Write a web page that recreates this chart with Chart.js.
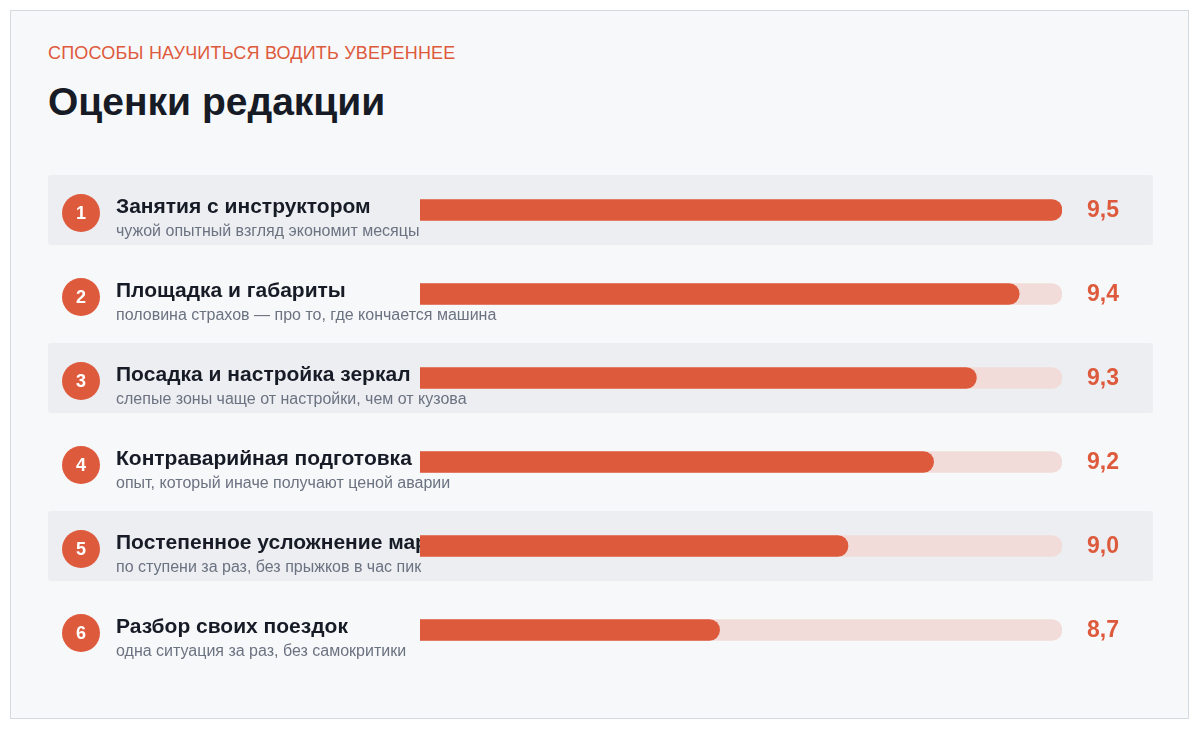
<!DOCTYPE html>
<html><head><meta charset="utf-8">
<script src="https://cdn.jsdelivr.net/npm/chart.js@4"></script>
<style>
html,body{margin:0;padding:0;background:#fff;}
#wrap{position:absolute;left:10px;top:10px;width:1177px;height:707px;border:1px solid #d5d9e0;background:#f7f8fa;}
#kick{position:absolute;left:48px;top:43px;font:18px "Liberation Sans",Arial,sans-serif;color:#de5a3c;letter-spacing:0.2px;}
#ttl{position:absolute;left:48px;top:80px;font:bold 39px "Liberation Sans Narrow","Liberation Sans",sans-serif;color:#161b26;}
canvas{position:absolute;left:0;top:0;}
</style></head><body>
<div id="wrap"></div>
<div id="kick">СПОСОБЫ НАУЧИТЬСЯ ВОДИТЬ УВЕРЕННЕЕ</div>
<div id="ttl">Оценки редакции</div>
<canvas id="c" width="1200" height="731"></canvas>
<script>
const names = ["Занятия с инструктором","Площадка и габариты","Посадка и настройка зеркал","Контраварийная подготовка","Постепенное усложнение маршрута","Разбор своих поездок"];
const notes = ["чужой опытный взгляд экономит месяцы","половина страхов — про то, где кончается машина","слепые зоны чаще от настройки, чем от кузова","опыт, который иначе получают ценой аварии","по ступени за раз, без прыжков в час пик","одна ситуация за раз, без самокритики"];
const scores = [9.5,9.4,9.3,9.2,9.0,8.7];
const scoreMax = 9.5, scoreMin = 8.0;
const track = scores.map(()=>scoreMax);

const deco = {
  id:'deco',
  beforeDatasetsDraw(chart){
    const ctx = chart.ctx, y = chart.scales.y;
    ctx.save();
    names.forEach((n,i)=>{
      const cy = y.getPixelForValue(i);
      if(i%2===0){ctx.fillStyle='#eceef2';ctx.beginPath();ctx.roundRect(48,cy-35,1105,70,3);ctx.fill();}
      ctx.fillStyle='#de5a3c';ctx.beginPath();ctx.arc(81,cy+3,19,0,Math.PI*2);ctx.fill();
      ctx.fillStyle='#fff';ctx.font='bold 18px "Liberation Sans", sans-serif';ctx.textAlign='center';ctx.textBaseline='middle';
      ctx.fillText(String(i+1),81,cy+4);
      ctx.textAlign='left';ctx.fillStyle='#161b26';ctx.font='bold 21px "Liberation Sans Narrow","Liberation Sans",sans-serif';
      ctx.fillText(n,116,cy-3);
      ctx.fillStyle='#6b7280';ctx.font='16px "Liberation Sans",sans-serif';
      ctx.fillText(notes[i],116,cy+22);
    });
    ctx.restore();
  },
  afterDatasetsDraw(chart){
    const ctx = chart.ctx, y = chart.scales.y;
    ctx.save();
    ctx.fillStyle='#de5a3c';ctx.font='bold 23px "Liberation Sans Narrow","Liberation Sans",sans-serif';ctx.textBaseline='middle';ctx.textAlign='left';
    scores.forEach((s,i)=>ctx.fillText(s.toFixed(1).replace('.',','),1087,y.getPixelForValue(i)+1));
    ctx.restore();
  }
};

new Chart(document.getElementById('c'),{
  type:'bar',
  data:{labels:names,datasets:[
    {data:scores,backgroundColor:'#de5a3c',borderRadius:11,borderSkipped:false,barThickness:21,grouped:false,order:1},
    {data:track,backgroundColor:'#f2dcd9',borderRadius:11,borderSkipped:false,barThickness:21,grouped:false,order:2}
  ]},
  options:{
    indexAxis:'y',responsive:false,animation:false,
    layout:{padding:{left:420,right:138,top:168,bottom:59}},
    scales:{x:{min:scoreMin,max:scoreMax,display:false},y:{display:false}},
    plugins:{legend:{display:false},tooltip:{enabled:false}}
  },
  plugins:[deco]
});
</script>
</body></html>
